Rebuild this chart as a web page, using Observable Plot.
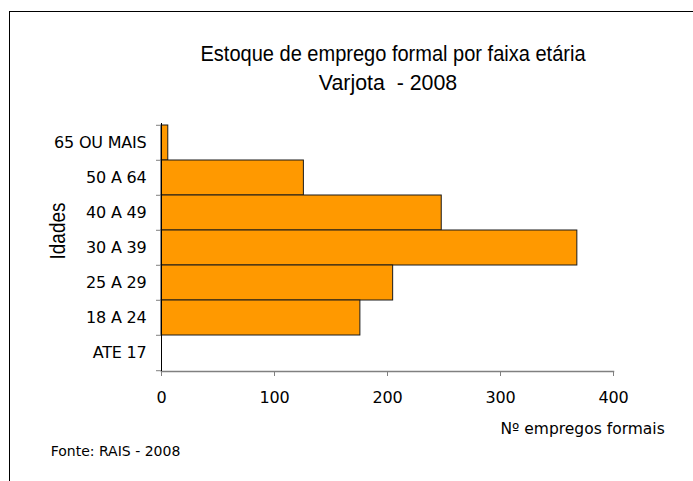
<!DOCTYPE html>
<html><head><meta charset="utf-8">
<script src="https://cdn.jsdelivr.net/npm/d3@7"></script>
<script src="https://cdn.jsdelivr.net/npm/@observablehq/plot@0.6"></script>
<style>
body{margin:0;background:#fff;}
#wrap{position:relative;width:693px;height:481px;overflow:hidden;background:#fff;}
.t{position:absolute;white-space:pre;color:#000;line-height:1;}
#chart{position:absolute;left:0;top:0;}
</style></head><body>
<div id="wrap">
<div id="chart"></div>
<div id="border" style="position:absolute;left:8.5px;top:10.5px;width:800px;height:600px;border-top:1.5px solid #000;border-left:1.5px solid #000;"></div>
<div class="t" id="title" style="font-family:'Liberation Sans',sans-serif;font-size:22px;left:393px;top:42.5px;transform:translateX(-50%) scaleX(0.91);"></div>
<div class="t" id="subtitle" style="font-family:'Liberation Sans',sans-serif;font-size:22px;left:387.5px;top:71.5px;transform:translateX(-50%) scaleX(0.97);"></div>
<div class="t" id="ylabel" style="font-family:'Liberation Sans',sans-serif;font-size:22px;left:58px;top:231px;transform:translate(-50%,-50%) rotate(-90deg) scaleX(0.86);"></div>
<div class="t" id="xlabel" style="font-family:'DejaVu Sans',sans-serif;font-size:15.5px;left:500.5px;top:421.6px;"></div>
<div class="t" id="source" style="font-family:'DejaVu Sans',sans-serif;font-size:14px;left:50.7px;top:444.2px;"></div>
</div>
<script>
const titleText = "Estoque de emprego formal por faixa etária";
const subtitleText = "Varjota  - 2008";
const yLabel = "Idades";
const xLabel = "Nº empregos formais";
const sourceText = "Fonte: RAIS - 2008";

const categories = ["65 OU MAIS", "50 A 64", "40 A 49", "30 A 39", "25 A 29", "18 A 24", "ATE 17"];
const values = [6, 126, 248, 368, 205, 176, 0];
const xTicks = [0, 100, 200, 300, 400];

document.getElementById("title").textContent = titleText;
document.getElementById("subtitle").textContent = subtitleText;
document.getElementById("ylabel").textContent = yLabel;
document.getElementById("xlabel").textContent = xLabel;
document.getElementById("source").textContent = sourceText;

const data = categories.map((c, i) => ({cat: c, value: values[i]}));

const W = 693, H = 481, mL = 161, mR = 80, mT = 123, mB = 110;
const step = (H - mT - mB) / categories.length;

const chart = Plot.plot({
  width: W, height: H,
  marginLeft: mL, marginRight: mR, marginTop: mT, marginBottom: mB,
  style: {fontFamily: "'DejaVu Sans', sans-serif", fontSize: "16px", color: "#000", background: "transparent", letterSpacing: "-0.2px"},
  x: {domain: [0, 400], ticks: xTicks, label: null},
  y: {domain: categories, padding: 0, label: null},
  marks: [
    Plot.barX(data, {x: "value", y: "cat", fill: "#FF9900", stroke: "#1a1a1a", strokeWidth: 1}),
    Plot.frame({anchor: "bottom", stroke: "#808080", strokeWidth: 1.5}),
    Plot.ruleX([0], {stroke: "#000", strokeWidth: 1}),
    Plot.axisX({ticks: xTicks, tickSize: 5, tickPadding: 15.5, stroke: "#808080", label: null, fontSize: 16}),
    Plot.axisY({tickSize: 0, tickPadding: 15, label: null, fontSize: 16}),
    Plot.axisY({tickSize: 5, tickFormat: () => "", label: null, stroke: "#808080", dy: -step / 2}),
    Plot.axisY({ticks: [categories[categories.length - 1]], tickSize: 5, tickFormat: () => "", label: null, stroke: "#808080", dy: step / 2})
  ]
});
document.getElementById("chart").appendChild(chart);
</script>
</body></html>
